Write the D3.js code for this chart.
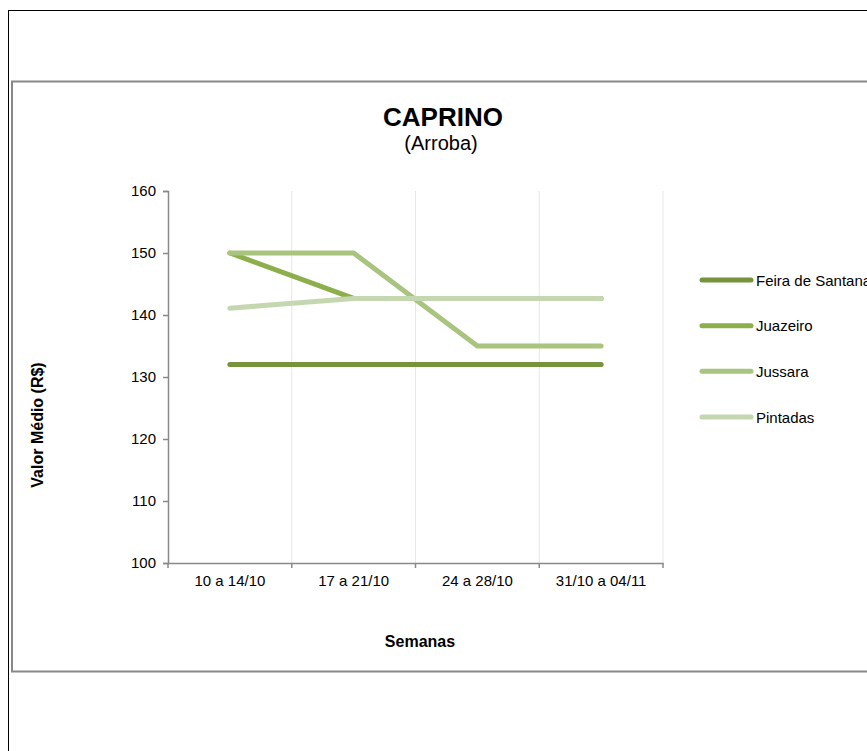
<!DOCTYPE html>
<html><head><meta charset="utf-8">
<script src="https://cdn.jsdelivr.net/npm/d3@7/dist/d3.min.js"></script>
<style>
html,body{margin:0;padding:0;background:#fff;}
svg{display:block;font-family:"Liberation Sans",Arial,sans-serif;}
</style></head>
<body>
<svg id="chart" width="867" height="751"></svg>
<script>
const categories = ["10 a 14/10", "17 a 21/10", "24 a 28/10", "31/10 a 04/11"];
const seriesNames = ["Feira de Santana", "Juazeiro", "Jussara", "Pintadas"];
const feiraValues = [132, 132, 132, 132];
const juazeiroValues = [150, 142.67, 142.67, 142.67];
const jussaraValues = [150, 150, 135, 135];
const pintadasValues = [141.1, 142.67, 142.67, 142.67];
const yTicks = [100, 110, 120, 130, 140, 150, 160];
const colors = ["#77933C", "#8CAF4B", "#A9C47E", "#C4D7B0"];

const seriesValues = [feiraValues, juazeiroValues, jussaraValues, pintadasValues];
const series = seriesNames.map((n, i) => ({name: n, values: seriesValues[i], color: colors[i]}));

const svg = d3.select("#chart");

// outer page frame
svg.append("line").attr("x1", 8.5).attr("x2", 8.5).attr("y1", 10).attr("y2", 751).attr("stroke", "#000").attr("stroke-width", 1);
svg.append("line").attr("x1", 8).attr("x2", 867).attr("y1", 10.5).attr("y2", 10.5).attr("stroke", "#000").attr("stroke-width", 1);

// chart box
svg.append("rect").attr("x", 12).attr("y", 81.5).attr("width", 900).attr("height", 590)
  .attr("fill", "#fff").attr("stroke", "#888").attr("stroke-width", 2);

const x = d3.scaleBand().domain(categories).range([168, 663]);
const y = d3.scaleLinear().domain([100, 160]).range([563, 191]);

// vertical gridlines at category boundaries
const bounds = categories.slice(1).map(c => x(c)).concat([x.range()[1]]);
svg.append("g").selectAll("line").data(bounds).join("line")
  .attr("x1", d => d).attr("x2", d => d).attr("y1", y(160)).attr("y2", y(100))
  .attr("stroke", "#e6e6e6").attr("stroke-width", 1);

// y axis
const yAxis = svg.append("g").attr("transform", "translate(168,0)")
  .call(d3.axisLeft(y).tickValues(yTicks).tickSize(5).tickPadding(7).tickFormat(d3.format("d")));
yAxis.select(".domain").attr("stroke", "#898989").attr("stroke-width", 1.5);
yAxis.selectAll(".tick line").attr("stroke", "#898989").attr("stroke-width", 1.5);
yAxis.selectAll("text").attr("font-size", 15).attr("fill", "#000").attr("font-family", "Liberation Sans, Arial, sans-serif");

// x axis
const xAxis = svg.append("g").attr("transform", `translate(0,${y(100)})`)
  .call(d3.axisBottom(x).tickSize(0).tickPadding(12));
xAxis.select(".domain").attr("stroke", "#898989").attr("stroke-width", 1.5);
xAxis.selectAll("text").attr("font-size", 15).attr("fill", "#000").attr("font-family", "Liberation Sans, Arial, sans-serif");
const xTickPos = [x.range()[0]].concat(bounds);
xAxis.selectAll("line.bt").data(xTickPos).join("line").attr("class", "bt")
  .attr("x1", d => d).attr("x2", d => d).attr("y1", 0).attr("y2", 5)
  .attr("stroke", "#898989").attr("stroke-width", 1.5);

// lines
const line = d3.line().x((d, i) => x(categories[i]) + x.bandwidth() / 2).y(d => y(d));
svg.append("g").selectAll("path").data(series).join("path")
  .attr("d", d => line(d.values)).attr("fill", "none").attr("stroke", d => d.color)
  .attr("stroke-width", 5).attr("stroke-linecap", "round").attr("stroke-linejoin", "round");

// titles
svg.append("text").attr("x", 443).attr("y", 126).attr("text-anchor", "middle")
  .attr("font-size", 26).attr("font-weight", "bold").text("CAPRINO");
svg.append("text").attr("x", 441).attr("y", 150).attr("text-anchor", "middle")
  .attr("font-size", 20).text("(Arroba)");
svg.append("text").attr("x", 420).attr("y", 647).attr("text-anchor", "middle")
  .attr("font-size", 16).attr("font-weight", "bold").text("Semanas");
svg.append("text").attr("transform", "translate(43,425) rotate(-90)").attr("text-anchor", "middle")
  .attr("font-size", 16).attr("font-weight", "bold").text("Valor Médio (R$)");

// legend
const legendY = d3.scalePoint().domain(seriesNames).range([280, 417]);
const lg = svg.append("g").selectAll("g").data(series).join("g")
  .attr("transform", d => `translate(0,${legendY(d.name)})`);
lg.append("line").attr("x1", 702).attr("x2", 751).attr("y1", 0).attr("y2", 0)
  .attr("stroke", d => d.color).attr("stroke-width", 5).attr("stroke-linecap", "round");
lg.append("text").attr("x", 756).attr("y", 5.5).attr("font-size", 15).text(d => d.name);
</script>
</body></html>
